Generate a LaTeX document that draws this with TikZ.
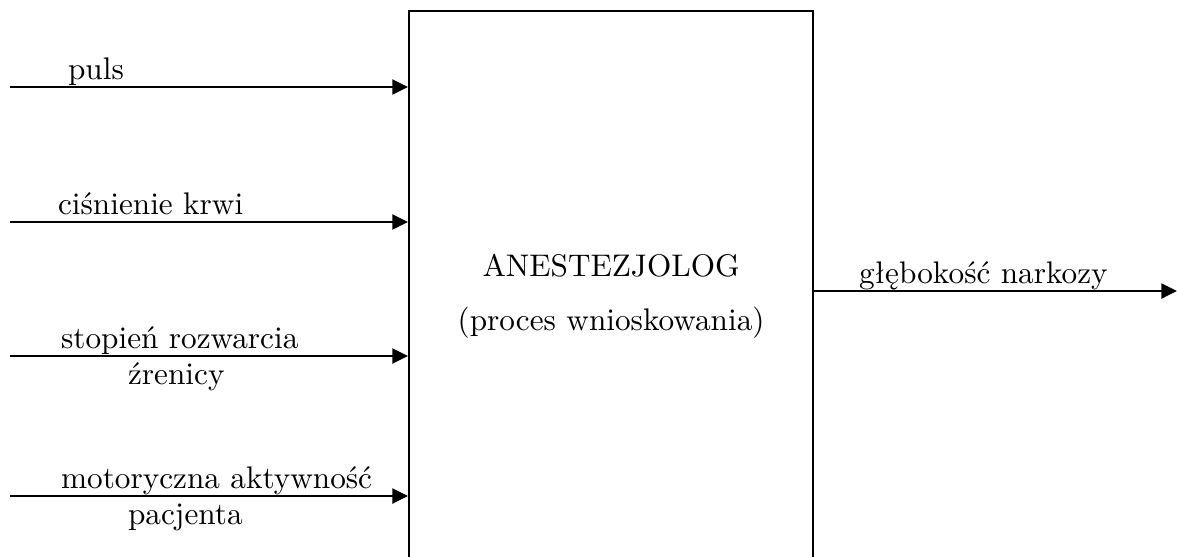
\documentclass[tikz,border=0pt]{standalone}
\usepackage{fontspec}
\usetikzlibrary{arrows.meta}

\begin{document}
\begin{tikzpicture}[x=0.32pt,y=-0.32pt,>={Triangle[length=5pt,width=4.8pt]},line width=0.7pt]

      % white space as in the original
      \useasboundingbox (0, 0) rectangle (1177, 556);

      % the expert
      \node [draw=black, anchor=north west, minimum width=129.3pt, minimum height=182.4pt,
             align=center, name=expert] at (408, 10)
            {ANESTEZJOLOG\\[5.3pt](proces wnioskowania)};

      % free ends of the connections
      \coordinate (in1) at (10, 87);
      \coordinate (in2) at (10, 222);
      \coordinate (in3) at (10, 356);
      \coordinate (in4) at (10, 496);
      \coordinate (out) at (1177, 291);

      % labels
      \node [anchor=base west, inner sep=0pt, name=t1] at (67, 79) {puls};
      \node [anchor=base west, inner sep=0pt, name=t2] at (57, 214) {ciśnienie krwi};
      \node [anchor=base west, inner sep=0pt, name=t3] at (60, 348) {stopień rozwarcia};
      \node [anchor=base west, inner sep=0pt, name=t3b] at (127, 384) {źrenicy};
      \node [anchor=base west, inner sep=0pt, name=t4] at (60, 488) {motoryczna aktywność};
      \node [anchor=base west, inner sep=0pt, name=t4b] at (127, 524) {pacjenta};
      \node [anchor=base west, inner sep=0pt, name=t5] at (858, 283) {głębokość narkozy};

      % connections
      \draw [->] (in1) -- (in1 -| expert.west);
      \draw [->] (in2) -- (in2 -| expert.west);
      \draw [->] (in3) -- (in3 -| expert.west);
      \draw [->] (in4) -- (in4 -| expert.west);
      \draw [->] (out -| expert.east) -- (out);

    \end{tikzpicture}
\end{document}
